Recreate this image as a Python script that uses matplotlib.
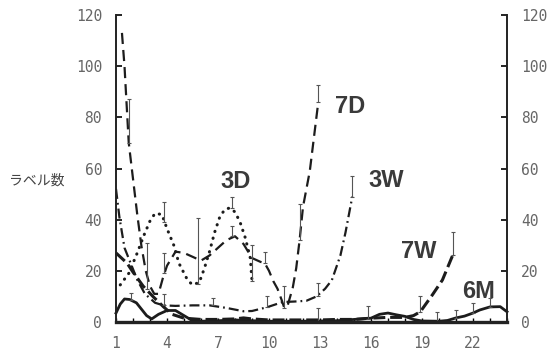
import matplotlib
matplotlib.use('Agg')
import matplotlib.pyplot as plt

# curve values (x = position, y = label count)
d7_x = [1.35, 1.5, 1.75, 2.0, 2.25, 2.5, 2.75, 3.0, 3.25, 3.5, 3.75, 4.0, 4.5, 5.0, 5.5, 6.0, 6.5, 7.0,
        7.5, 8.0, 8.5, 9.0, 9.5, 9.75, 10.0, 10.25, 10.5, 10.75, 10.9, 11.1, 11.4, 11.6, 11.8, 12.0, 12.4, 12.9]
d7_y = [113, 100, 70, 56, 42, 29.5, 20, 14, 11, 11, 17, 22, 27.5, 27, 25.5, 24, 26, 29, 32, 33.5, 30.5,
        25, 23.5, 23, 20, 16, 13, 8.5, 5.5, 6.5, 13.5, 21, 32, 45, 59, 86]

d3_x = [1.25, 1.75, 2.25, 2.65, 3.0, 3.3, 3.7, 4.0, 4.4, 4.7, 5.2, 5.5, 5.9, 6.2, 6.5, 6.8, 7.1, 7.4,
        7.7, 8.0, 8.3, 8.6, 8.9, 9.0]
d3_y = [14.5, 19, 27, 34, 39.5, 42.5, 42, 36.5, 30, 23, 16.5, 14.5, 15.5, 21, 27.5, 35, 41, 44, 44.6,
        43, 39, 33, 25, 16]

w3_x = [1.0, 1.2, 1.5, 1.95, 2.25, 2.7, 3.3, 3.8, 4.5, 5.5, 6.5, 7.5, 8.5, 9.0, 9.9, 10.8, 11.5, 12.2,
        12.8, 13.3, 13.7, 14.2, 14.5, 14.9]
w3_y = [52, 41, 29, 21.5, 16.5, 11, 7.5, 6.5, 6.3, 6.5, 6.5, 5.5, 4.2, 4.3, 5.8, 7.8, 8, 8.3, 10, 13,
        16.4, 26, 35, 49]

w7_x = [1.0, 1.65, 2.0, 2.6, 3.2, 3.8, 4.3, 5.0, 6.0, 7.0, 8.0, 8.5, 9.0, 10.0, 11.0, 12.0, 13.0, 14.0,
        15.0, 16.0, 17.0, 18.0, 18.5, 18.9, 19.6, 20.2, 20.8]
w7_y = [27, 23, 19.5, 14, 9.8, 5.9, 3, 1.5, 1, 1, 1.2, 1.6, 1.2, 0.8, 0.8, 0.8, 0.8, 1, 1, 1.5, 1.8,
        1.8, 2.5, 4, 10.5, 16.4, 26]

m6_x = [1.0, 1.25, 1.5, 1.8, 2.2, 2.5, 2.8, 3.1, 3.5, 4.0, 4.5, 5.0, 5.5, 6.0, 7.0, 8.0, 9.0, 10.0,
        12.0, 14.0, 15.0, 16.0, 16.5, 17.0, 17.5, 18.0, 18.5, 19.0, 20.0, 20.5, 21.0, 21.5, 22.0, 22.4,
        23.0, 23.6, 24.0]
m6_y = [3.5, 7, 9, 8.8, 7.5, 5, 2.5, 1.2, 3, 4.5, 4.5, 2.5, 0.5, 0.3, 0.5, 0.8, 0.5, 0.3, 0.3, 0.5,
        1, 1.5, 3, 3.5, 2.8, 2.2, 1, 0.4, 0.3, 0.6, 1.6, 2.3, 3.5, 4.7, 5.9, 6, 4]

# error bars: position, point value, top of bar
err_x = [1.76, 1.9, 2.8, 3.8, 3.8, 3.8, 5.8, 6.7, 7.8, 7.8, 9.0, 9.76, 9.9, 10.9, 11.8, 12.9, 12.9,
         12.9, 14.9, 15.8, 18.9, 19.9, 20.8, 21.0, 22.0, 23.0]
err_y = [70, 8.7, 13, 39, 19, 6.5, 15, 6.5, 44.5, 33.5, 16, 23, 5.8, 5.5, 32, 86, 10, 0.5, 49, 1.2,
         4, 0.5, 26, 1.6, 3.5, 5.9]
err_top = [87, 11.3, 31, 47, 27, 11, 40.6, 9.4, 49, 37.5, 30, 27.5, 10, 14, 46, 92.5, 15.2, 5.5, 57,
           6.3, 10.2, 4, 35, 4.7, 7.4, 9.4]

labels = ['3D', '7D', '3W', '7W', '6M']
label_x = [8.06, 14.8, 16.9, 18.8, 22.3]
label_y = [55, 84.4, 55.5, 27.4, 12.1]

ink = '#1c1c1c'

fig = plt.figure(figsize=(5.59, 3.54), dpi=100)
ax = fig.add_axes([116 / 559, 32 / 354, 391 / 559, 307 / 354])

ax.plot(d7_x, d7_y, color=ink, lw=1.6, linestyle=(0, (5, 2.7)))
ax.plot(d3_x, d3_y, color=ink, lw=2.2, linestyle=(0, (0.1, 2.2)), dash_capstyle='round')
ax.plot(w3_x, w3_y, color=ink, lw=1.6, linestyle=(0, (4.5, 1.8, 0.8, 1.8)))
ax.plot(w7_x, w7_y, color=ink, lw=2.2, linestyle=(0, (3.9, 1.6)), clip_on=False)
ax.plot(m6_x, m6_y, color=ink, lw=2.0, clip_on=False)

lower = [0] * len(err_x)
upper = [t - v for t, v in zip(err_top, err_y)]
ax.errorbar(err_x, err_y, yerr=[lower, upper], fmt='none', ecolor='#555555', elinewidth=0.8,
            capsize=1.5, capthick=0.8)

for t, x, y in zip(labels, label_x, label_y):
    ax.text(x, y, t, ha='center', va='center', fontsize=17, fontweight='bold',
            family='Liberation Sans', color='#3a3a3a')

ax.set_xlim(1, 24)
ax.set_ylim(0, 120)
ax.set_xticks(range(1, 25))
ax.set_xticklabels([str(i) if (i - 1) % 3 == 0 else '' for i in range(1, 25)])
ax.set_yticks(range(0, 121, 20))

ax.spines['top'].set_visible(False)
ax.spines['left'].set_linewidth(1.4)
ax.spines['right'].set_linewidth(1.4)
ax.spines['bottom'].set_linewidth(2.4)
for s in ax.spines.values():
    s.set_color('#222222')

ax.tick_params(axis='y', direction='in', length=4, width=1.2, left=True, right=True,
               labelleft=True, labelright=True, pad=10, labelsize=10.5, labelcolor='#666666')
ax.tick_params(axis='x', direction='in', length=3, width=1, pad=10, labelsize=10.5,
               labelcolor='#666666')
for lab in ax.get_xticklabels() + ax.get_yticklabels():
    lab.set_family('DejaVu Sans Mono')

fig.text(37 / 559, 1 - 181 / 354, 'ラベル数', ha='center', va='center', fontsize=10,
         family=['Noto Sans CJK JP', 'DejaVu Sans'], color='#444444')

fig.savefig('out.png', dpi=100, facecolor='white')
